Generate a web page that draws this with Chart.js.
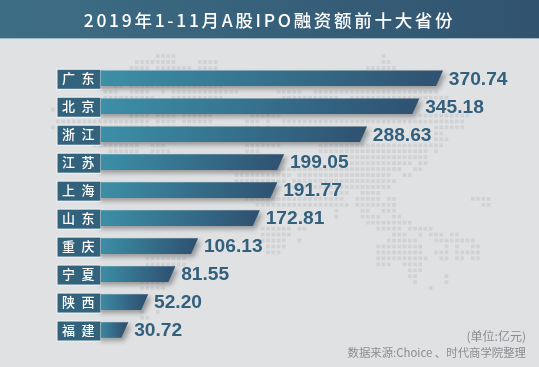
<!DOCTYPE html>
<html>
<head>
  <meta charset="utf-8">
  <title>2019年1-11月A股IPO融资额前十大省份</title>
  <script src="https://cdn.jsdelivr.net/npm/chart.js@4"></script>
  <style>
    body { margin: 0; background: #e0e1e3; }
    canvas { display: block; }
  </style>
</head>
<body>
  <canvas id="chart" width="539" height="367"></canvas>

  <script>
    const chartTitle = '2019年1-11月A股IPO融资额前十大省份';
    const categories = ['广东', '北京', '浙江', '江苏', '上海', '山东', '重庆', '宁夏', '陕西', '福建'];
    const amounts = [370.74, 345.18, 288.63, 199.05, 191.77, 172.81, 106.13, 81.55, 52.20, 30.72];
    const notes = ['(单位:亿元)', '数据来源:Choice 、时代商学院整理'];

    // background dot map: [row, first column, last column]
    const mapRuns = [
      [0,20,23],[0,63,63],
      [1,16,23],[1,28,31],[1,63,64],
      [2,15,18],[2,20,26],[2,28,31],[2,60,65],
      [5,12,13],[5,15,17],[5,18,19],[5,20,32],
      [6,10,12],[6,15,18],[6,21,21],[6,23,32],[6,33,35],[6,43,47],[6,50,73],
      [7,10,14],[7,15,19],[7,23,32],[7,44,54],[7,57,75],
      [9,0,0],
      [10,15,18],[10,20,23],[10,25,30],[10,38,39],[10,40,43],[10,70,79],
      [11,1,18],[11,20,23],[11,25,30],[11,37,39],[11,41,41],[11,44,78],
      [12,0,0],[12,1,18],[12,20,23],[12,25,26],[12,37,39],[12,41,41],[12,73,78],
      [13,73,74],
      [14,11,15],[14,19,21],[14,37,43],[14,73,75],
      [15,8,16],[15,19,21],[15,37,43],[15,51,71],[15,72,74],
      [16,11,16],[16,19,22],[16,37,39],[16,51,71],[16,73,73],
      [17,56,71],
      [18,57,68],[18,70,71],
      [19,34,56],[19,55,66],[19,69,70],
      [20,35,45],[20,47,64],[20,67,68],
      [21,35,44],[21,46,65],
      [22,45,64],
      [23,53,56],[23,59,62],
      [24,37,52],[24,53,55],[24,58,62],[24,64,65],[24,80,83],
      [25,39,56],[25,58,65],[25,82,83],
      [26,54,54],[26,59,60],[26,63,65],
      [27,54,54],[27,59,62],[27,65,66],
      [28,60,68],
      [29,40,45],[29,47,48],[29,62,66],[29,68,72],
      [30,40,45],[30,65,67],[30,70,70],[30,72,74],[30,76,77],
      [31,40,44],[31,47,47],[31,64,69],[31,73,79],[31,80,80],
      [32,41,44],[32,62,70],[32,75,75],[32,77,77],[32,80,81],
      [33,41,43],[33,62,70],[33,73,75],[33,77,81],
      [34,18,25],[34,62,71],[34,74,75],[34,77,78],[34,80,81],
      [35,18,25],[35,62,64],[35,67,70],
      [36,68,70],
      [37,68,69],[37,75,75],
      [38,69,69],[38,75,75],
      [39,72,72],
      [38,17,21],[39,17,21],
      [41,17,17],[43,17,17],[43,20,20],[44,17,18]
    ];

    const backdrop = {
      id: 'backdrop',
      afterLayout(chart) {
        // the title block has no letter spacing option
        const box = chart.titleBlock;
        if (box && !box.spaced) {
          const draw = box.draw;
          box.draw = function () {
            chart.ctx.letterSpacing = '2.7px';
            draw.call(this);
            chart.ctx.letterSpacing = '0px';
          };
          box.spaced = true;
        }
      },
      beforeDraw(chart) {
        const ctx = chart.ctx;
        const w = chart.width;
        ctx.save();
        ctx.fillStyle = '#e0e1e3';
        ctx.fillRect(0, 0, w, chart.height);

        ctx.fillStyle = '#d1d2d4';
        mapRuns.forEach(([row, from, to]) => {
          for (let c = from; c <= to; c++) {
            ctx.fillRect(50.9 + c * 5.25, 54.2 + row * 5.95, 3.7, 3.7);
          }
        });

        const band = ctx.createLinearGradient(0, 0, w, 0);
        band.addColorStop(0, '#3d6e85');
        band.addColorStop(1, '#31536f');
        ctx.fillStyle = band;
        ctx.fillRect(0, 0, w, 38);
        ctx.fillStyle = '#9db9c4';
        ctx.fillRect(0, 38, w, 1);
        ctx.restore();
      },
      beforeDatasetDraw(chart, args) {
        // slanted bar ends, positions come from the bar elements
        const ctx = chart.ctx;
        args.meta.data.forEach(bar => {
          const top = bar.y - bar.height / 2;
          const bottom = bar.y + bar.height / 2;
          const fill = ctx.createLinearGradient(bar.base, 0, bar.x, 0);
          fill.addColorStop(0, '#3c90a8');
          fill.addColorStop(1, '#2f5271');
          ctx.save();
          ctx.shadowColor = 'rgba(60,60,60,0.45)';
          ctx.shadowBlur = 5;
          ctx.shadowOffsetX = 3;
          ctx.shadowOffsetY = 3;
          ctx.beginPath();
          ctx.moveTo(bar.base, top);
          ctx.lineTo(bar.x + 3.5, top);
          ctx.lineTo(bar.x - 3.5, bottom);
          ctx.lineTo(bar.base, bottom);
          ctx.closePath();
          ctx.fillStyle = fill;
          ctx.fill();
          ctx.restore();
        });
        return false;
      },
      afterDatasetsDraw(chart) {
        const ctx = chart.ctx;
        ctx.save();
        // boxes behind the province names, the tick labels are drawn over them
        const y = chart.scales.y;
        categories.forEach((c, i) => {
          const cy = y.getPixelForTick(i) + 1;
          ctx.fillStyle = '#f3f4f5';
          ctx.fillRect(56.5, cy - 10.5, 44.5, 21);
          ctx.fillStyle = '#33627d';
          ctx.fillRect(57.5, cy - 9.5, 43, 19);
        });

        ctx.fillStyle = '#33607c';
        ctx.font = 'bold 19.2px "Liberation Sans"';
        ctx.textBaseline = 'middle';
        ctx.textAlign = 'left';
        chart.getDatasetMeta(0).data.forEach((bar, i) => {
          ctx.fillText(amounts[i].toFixed(2), bar.x + 9.3, bar.y + 1);
        });
        ctx.fillStyle = '#8b8e91';
        ctx.font = '12px "Noto Sans CJK SC"';
        ctx.textAlign = 'right';
        ctx.fillText(notes[0], 526, 336);
        ctx.font = '11.4px "Noto Sans CJK SC"';
        ctx.fillText(notes[1], 526, 352.5);
        ctx.restore();
      }
    };

    new Chart(document.getElementById('chart'), {
      type: 'bar',
      plugins: [backdrop],
      data: {
        labels: categories,
        datasets: [{
          data: amounts,
          categoryPercentage: 1,
          barPercentage: 0.56
        }]
      },
      options: {
        indexAxis: 'y',
        responsive: false,
        animation: false,
        layout: { padding: { left: 0, right: 0, top: 0, bottom: 23 } },
        plugins: {
          legend: { display: false },
          tooltip: { enabled: false },
          title: {
            display: true,
            text: chartTitle,
            color: '#ffffff',
            font: { family: '"Noto Sans CJK SC"', size: 17.5, weight: '500' },
            padding: { top: 10, bottom: 33.3 }
          }
        },
        scales: {
          x: { display: false, min: 0, max: 478.2 },
          y: {
            afterFit(scale) { scale.width = 96.4; },
            border: { display: false },
            grid: { display: false, drawTicks: false },
            ticks: {
              z: 1,
              color: '#ffffff',
              padding: 1.9,
              crossAlign: 'near',
              font: { family: '"Noto Sans CJK SC"', size: 13, weight: '500' },
              callback(value) {
                return this.getLabelForValue(value).split('').join('\u2002');
              }
            }
          }
        }
      }
    });
  </script>
</body>
</html>
